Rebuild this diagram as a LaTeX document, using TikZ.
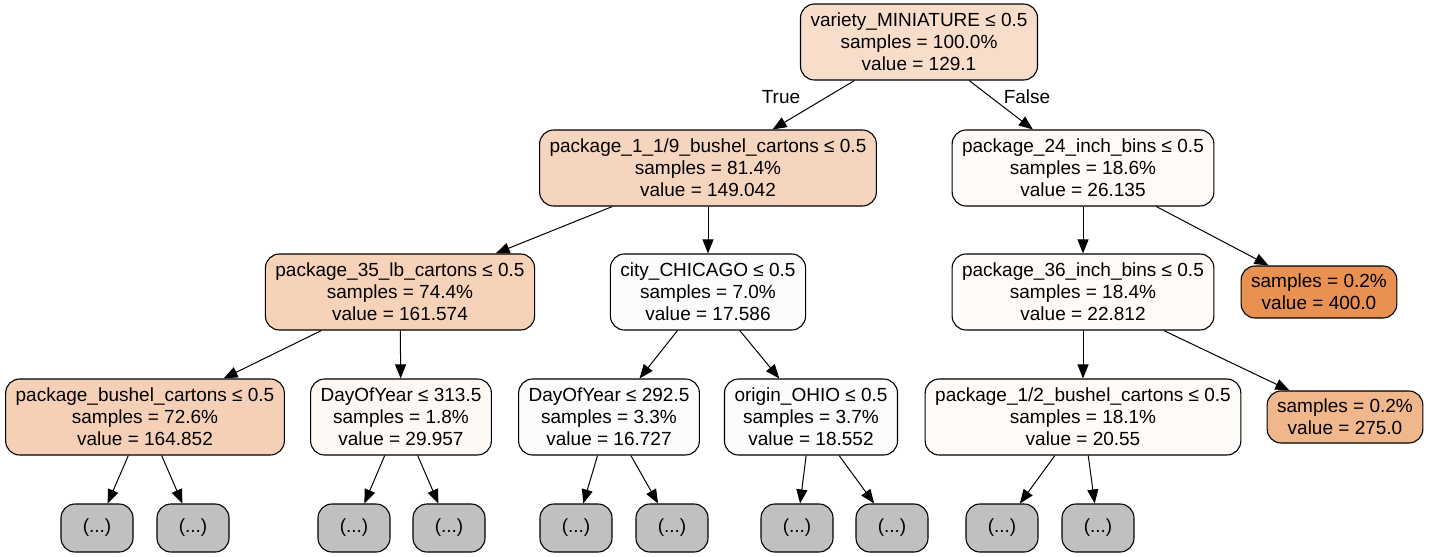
\documentclass[tikz,border=0pt]{standalone}
\usepackage{fontspec}
\setmainfont{Liberation Sans}
\usetikzlibrary{arrows.meta}
\definecolor{leafcol}{HTML}{E58139}
\definecolor{morecol}{HTML}{C0C0C0}

\begin{document}
\begin{tikzpicture}[x=1pt,y=-1pt,
    box/.style={draw,line width=1.1pt,rounded corners=14pt,align=center,
      inner xsep=10pt,minimum height=76pt,font=\fontsize{19}{22}\selectfont},
    small/.style={box,minimum height=52pt},
    more/.style={box,fill=morecol,minimum width=72pt,minimum height=48pt},
    edge/.style={line width=1pt,-{Triangle[length=14pt,width=11pt]}}]
    \useasboundingbox (0,0) rectangle (1430,557);

    % 根节点
    \node[box,fill=leafcol!27] (miniature) at (919,42)
      {variety\_MINIATURE ≤ 0.5\\samples = 100.0\%\\value = 129.1};

    % 第二层
    \node[box,fill=leafcol!33] (ninth) at (708,168)
      {package\_1\_1/9\_bushel\_cartons ≤ 0.5\\samples = 81.4\%\\value = 149.042};
    \node[box,fill=leafcol!4] (inch24) at (1083,168)
      {package\_24\_inch\_bins ≤ 0.5\\samples = 18.6\%\\value = 26.135};

    % 第三层
    \node[box,fill=leafcol!36] (lb35) at (400,292)
      {package\_35\_lb\_cartons ≤ 0.5\\samples = 74.4\%\\value = 161.574};
    \node[box,fill=leafcol!2] (chicago) at (708,292)
      {city\_CHICAGO ≤ 0.5\\samples = 7.0\%\\value = 17.586};
    \node[box,fill=leafcol!3] (inch36) at (1083,292)
      {package\_36\_inch\_bins ≤ 0.5\\samples = 18.4\%\\value = 22.812};
    \node[small,fill=leafcol!87] (leafA) at (1319,292)
      {samples = 0.2\%\\value = 400.0};

    % 第四层
    \node[box,fill=leafcol!37] (bushel) at (145,417)
      {package\_bushel\_cartons ≤ 0.5\\samples = 72.6\%\\value = 164.852};
    \node[box,fill=leafcol!5] (doyA) at (401,417)
      {DayOfYear ≤ 313.5\\samples = 1.8\%\\value = 29.957};
    \node[box,fill=leafcol!2] (doyB) at (609,417)
      {DayOfYear ≤ 292.5\\samples = 3.3\%\\value = 16.727};
    \node[box,fill=leafcol!2] (ohio) at (811,417)
      {origin\_OHIO ≤ 0.5\\samples = 3.7\%\\value = 18.552};
    \node[box,fill=leafcol!3] (half) at (1083,417)
      {package\_1/2\_bushel\_cartons ≤ 0.5\\samples = 18.1\%\\value = 20.55};
    \node[small,fill=leafcol!58] (leafB) at (1345,417)
      {samples = 0.2\%\\value = 275.0};

    % 省略的子树
    \foreach \i/\x in {1/97,2/193,3/354,4/449,5/576,6/672,7/797,8/892,9/1002,10/1098}
    \node[more] (g\i) at (\x,528) {(...)};

    % 箭头
    \foreach \a/\b in {miniature/ninth,miniature/inch24,ninth/lb35,ninth/chicago,
        inch24/inch36,inch24/leafA,lb35/bushel,lb35/doyA,chicago/doyB,chicago/ohio,
        inch36/half,inch36/leafB,bushel/g1,bushel/g2,doyA/g3,doyA/g4,doyB/g5,doyB/g6,
        ohio/g7,ohio/g8,half/g9,half/g10}
    \draw[edge] (\a) -- (\b);

    \node[font=\fontsize{19}{22}\selectfont] (truelbl) at (781,97) {True};
    \node[font=\fontsize{19}{22}\selectfont] (falselbl) at (1027,97) {False};
  \end{tikzpicture}
\end{document}
